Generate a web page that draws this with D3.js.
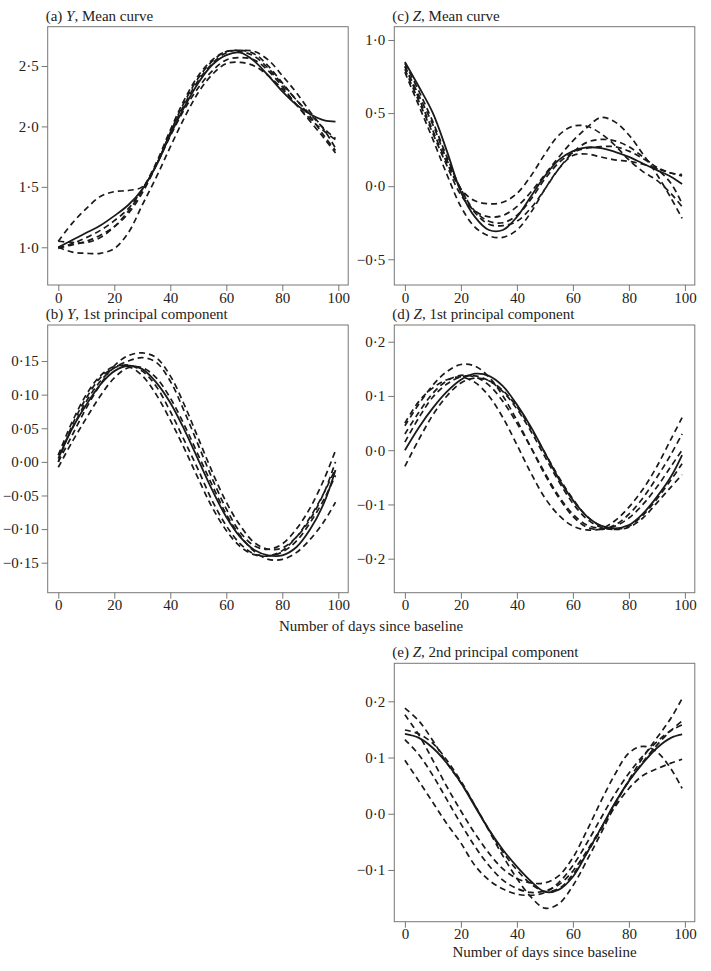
<!DOCTYPE html>
<html><head><meta charset="utf-8">
<script src="https://cdn.jsdelivr.net/npm/d3@7/dist/d3.min.js"></script>
<style>
body{margin:0;background:#fff;}
text{font-family:"Liberation Serif","DejaVu Serif",serif;fill:#222;}
</style></head>
<body><svg id="c" width="711" height="971"></svg>
<script>
const days = [0,5,10,15,20,25,30,35,40,45,50,55,60,65,70,75,80,85,90,95,99];
const xTicks = [0,20,40,60,80,100];

// (a) Y mean curve
const aMean = [1.00,1.06,1.12,1.18,1.26,1.35,1.48,1.68,1.93,2.16,2.36,2.51,2.59,2.61,2.54,2.42,2.29,2.18,2.10,2.05,2.04];
const aDash = [
 [1.05,1.20,1.32,1.42,1.46,1.47,1.50,1.68,1.95,2.18,2.38,2.52,2.61,2.63,2.60,2.50,2.36,2.22,2.10,1.98,1.90],
 [1.00,0.96,0.95,0.95,0.99,1.12,1.35,1.58,1.83,2.07,2.28,2.43,2.52,2.53,2.50,2.42,2.31,2.18,2.04,1.90,1.78],
 [1.00,1.02,1.05,1.10,1.17,1.28,1.45,1.68,1.95,2.20,2.40,2.54,2.62,2.63,2.62,2.55,2.42,2.28,2.12,1.97,1.82],
 [0.99,1.03,1.08,1.14,1.22,1.32,1.48,1.70,1.97,2.22,2.42,2.55,2.62,2.62,2.58,2.48,2.35,2.22,2.08,1.92,1.80],
 [1.05,1.04,1.04,1.08,1.17,1.30,1.47,1.68,1.92,2.14,2.32,2.46,2.55,2.57,2.55,2.46,2.33,2.18,2.06,1.96,1.89]
];
const aTicks = [1.0,1.5,2.0,2.5];

// (b) Y 1st PC
const bMean = [0.005,0.050,0.085,0.115,0.135,0.143,0.138,0.118,0.088,0.048,0.003,-0.042,-0.082,-0.112,-0.131,-0.139,-0.139,-0.127,-0.100,-0.060,-0.012];
const bDash = [
 [0.000,0.040,0.080,0.115,0.143,0.158,0.162,0.155,0.128,0.085,0.035,-0.015,-0.060,-0.095,-0.120,-0.130,-0.128,-0.112,-0.085,-0.045,0.000],
 [0.010,0.050,0.090,0.120,0.140,0.150,0.155,0.148,0.120,0.075,0.025,-0.025,-0.070,-0.105,-0.125,-0.130,-0.122,-0.100,-0.068,-0.025,0.017],
 [-0.008,0.030,0.065,0.098,0.125,0.140,0.140,0.125,0.095,0.055,0.010,-0.035,-0.078,-0.110,-0.133,-0.145,-0.145,-0.135,-0.115,-0.088,-0.060],
 [0.010,0.060,0.100,0.128,0.142,0.142,0.128,0.100,0.062,0.020,-0.025,-0.068,-0.102,-0.126,-0.138,-0.140,-0.132,-0.112,-0.082,-0.045,-0.010],
 [0.000,0.055,0.095,0.125,0.140,0.144,0.135,0.112,0.075,0.032,-0.012,-0.058,-0.095,-0.122,-0.137,-0.140,-0.134,-0.118,-0.090,-0.055,-0.020]
];
const bTicks = [-0.15,-0.10,-0.05,0,0.05,0.10,0.15];

// (c) Z mean curve
const cMean = [0.85,0.68,0.50,0.24,-0.04,-0.21,-0.30,-0.30,-0.21,-0.07,0.07,0.18,0.24,0.265,0.26,0.235,0.20,0.155,0.11,0.065,0.015];
const cDash = [
 [0.82,0.60,0.38,0.16,-0.02,-0.10,-0.12,-0.11,-0.05,0.07,0.22,0.35,0.41,0.41,0.36,0.28,0.18,0.10,0.04,-0.05,-0.14],
 [0.80,0.58,0.36,0.14,-0.06,-0.17,-0.21,-0.20,-0.14,-0.04,0.08,0.20,0.31,0.40,0.47,0.44,0.35,0.22,0.08,-0.08,-0.22],
 [0.78,0.55,0.32,0.08,-0.14,-0.28,-0.34,-0.35,-0.30,-0.18,-0.02,0.12,0.21,0.22,0.20,0.18,0.17,0.15,0.12,0.09,0.07],
 [0.82,0.62,0.42,0.18,-0.02,-0.18,-0.26,-0.27,-0.24,-0.15,-0.02,0.12,0.23,0.30,0.32,0.31,0.27,0.20,0.12,0.02,-0.12],
 [0.84,0.65,0.44,0.20,-0.02,-0.17,-0.24,-0.25,-0.20,-0.09,0.05,0.16,0.23,0.26,0.27,0.27,0.24,0.19,0.13,0.09,0.08]
];
const cTicks = [-0.5,0,0.5,1.0];

// (d) Z 1st PC
const dMean = [0.000,0.042,0.078,0.108,0.130,0.141,0.137,0.118,0.084,0.043,-0.005,-0.053,-0.092,-0.122,-0.139,-0.144,-0.138,-0.117,-0.086,-0.049,-0.009];
const dDash = [
 [0.045,0.085,0.120,0.145,0.158,0.155,0.135,0.100,0.055,0.005,-0.045,-0.088,-0.122,-0.142,-0.146,-0.138,-0.118,-0.088,-0.050,-0.008,0.030],
 [0.050,0.090,0.115,0.130,0.135,0.125,0.100,0.060,0.010,-0.042,-0.088,-0.120,-0.140,-0.147,-0.145,-0.130,-0.105,-0.072,-0.030,0.020,0.060],
 [-0.030,0.020,0.065,0.100,0.124,0.133,0.128,0.110,0.080,0.040,-0.005,-0.050,-0.090,-0.122,-0.140,-0.146,-0.142,-0.125,-0.097,-0.068,-0.045],
 [0.030,0.070,0.105,0.128,0.138,0.135,0.120,0.090,0.050,0.005,-0.042,-0.085,-0.118,-0.138,-0.144,-0.140,-0.125,-0.100,-0.068,-0.030,0.000],
 [0.015,0.060,0.098,0.122,0.135,0.137,0.128,0.108,0.076,0.035,-0.012,-0.058,-0.098,-0.127,-0.142,-0.146,-0.140,-0.120,-0.090,-0.055,-0.025]
];
const dTicks = [-0.2,-0.1,0,0.1,0.2];

// (e) Z 2nd PC
const eMean = [0.142,0.135,0.117,0.090,0.055,0.013,-0.028,-0.064,-0.094,-0.120,-0.139,-0.135,-0.112,-0.070,-0.026,0.019,0.058,0.090,0.117,0.135,0.141];
const eDash = [
 [0.188,0.165,0.130,0.090,0.055,0.015,-0.028,-0.068,-0.100,-0.125,-0.138,-0.133,-0.108,-0.070,-0.028,0.018,0.058,0.092,0.122,0.148,0.165],
 [0.176,0.140,0.095,0.048,0.005,-0.035,-0.070,-0.098,-0.115,-0.123,-0.123,-0.110,-0.078,-0.030,0.022,0.070,0.108,0.120,0.110,0.080,0.045],
 [0.149,0.142,0.125,0.095,0.058,0.015,-0.030,-0.075,-0.115,-0.148,-0.168,-0.160,-0.128,-0.083,-0.035,0.015,0.060,0.100,0.135,0.170,0.205],
 [0.132,0.105,0.068,0.025,-0.018,-0.058,-0.092,-0.118,-0.133,-0.140,-0.137,-0.126,-0.102,-0.066,-0.026,0.012,0.045,0.068,0.080,0.090,0.097],
 [0.095,0.058,0.020,-0.018,-0.052,-0.092,-0.118,-0.134,-0.143,-0.145,-0.140,-0.122,-0.092,-0.052,-0.008,0.035,0.072,0.103,0.128,0.148,0.158]
];
const eTicks = [-0.1,0,0.1,0.2];

const panels = [
 {lab:"(a) ", v:"Y", rest:", Mean curve", mean:aMean, dash:aDash, ticks:aTicks, dom:[0.688,2.825], dec:1, left:47.7, top:26.7, bottom:285},
 {lab:"(c) ", v:"Z", rest:", Mean curve", mean:cMean, dash:cDash, ticks:cTicks, dom:[-0.676,1.091], dec:1, left:394.3, top:26.7, bottom:285},
 {lab:"(b) ", v:"Y", rest:", 1st principal component", mean:bMean, dash:bDash, ticks:bTicks, dom:[-0.1946,0.2036], dec:2, left:47.7, top:325, bottom:592.7},
 {lab:"(d) ", v:"Z", rest:", 1st principal component", mean:dMean, dash:dDash, ticks:dTicks, dom:[-0.2627,0.2308], dec:1, left:394.3, top:325, bottom:592.7},
 {lab:"(e) ", v:"Z", rest:", 2nd principal component", mean:eMean, dash:eDash, ticks:eTicks, dom:[-0.192,0.2676], dec:1, left:394.3, top:663.3, bottom:921.7}
];

const svg = d3.select("#c");
const W = 300.5;
const fmt = (dec) => (v) => {
  const s = Math.abs(v).toFixed(dec).replace(".", "\u00B7");
  return (v < -1e-9 ? "\u2212" : "") + s;
};

panels.forEach(p => {
  const g = svg.append("g");
  const x = d3.scaleLinear().domain([0,100]).range([p.left+10.6, p.left+290.6]);
  const y = d3.scaleLinear().domain(p.dom).range([p.bottom, p.top]);

  const xa = g.append("g").attr("transform", `translate(0,${p.bottom})`)
    .call(d3.axisBottom(x).tickValues(xTicks).tickSize(6).tickPadding(1).tickFormat(d3.format("d")));
  const ya = g.append("g").attr("transform", `translate(${p.left},0)`)
    .call(d3.axisLeft(y).tickValues(p.ticks).tickSize(6).tickPadding(3).tickFormat(fmt(p.dec)));
  [xa, ya].forEach(a => {
    a.select(".domain").remove();
    a.selectAll("line").attr("stroke", "#777");
    a.selectAll("text").attr("font-size", 15).attr("font-family", '"Liberation Serif",serif').attr("fill", "#222");
  });

  g.append("rect").attr("x", p.left).attr("y", p.top).attr("width", W).attr("height", p.bottom - p.top)
    .attr("fill", "none").attr("stroke", "#777").attr("stroke-width", 1);

  const line = d3.line().x((d,i) => x(days[i])).y(d => y(d)).curve(d3.curveCatmullRom.alpha(0.5));
  p.dash.forEach(s => {
    g.append("path").attr("d", line(s)).attr("fill", "none").attr("stroke", "#1a1a1a")
      .attr("stroke-width", 1.7).attr("stroke-dasharray", "6,4");
  });
  g.append("path").attr("d", line(p.mean)).attr("fill", "none").attr("stroke", "#1a1a1a").attr("stroke-width", 1.8);

  const t = g.append("text").attr("x", p.left - 2).attr("y", p.top - 6).attr("font-size", 15);
  t.append("tspan").text(p.lab);
  t.append("tspan").attr("font-style", "italic").text(p.v);
  t.append("tspan").text(p.rest);
});

svg.append("text").attr("x", 371).attr("y", 631).attr("text-anchor", "middle").attr("font-size", 15).text("Number of days since baseline");
svg.append("text").attr("x", 544.6).attr("y", 957).attr("text-anchor", "middle").attr("font-size", 15).text("Number of days since baseline");
</script></body></html>
